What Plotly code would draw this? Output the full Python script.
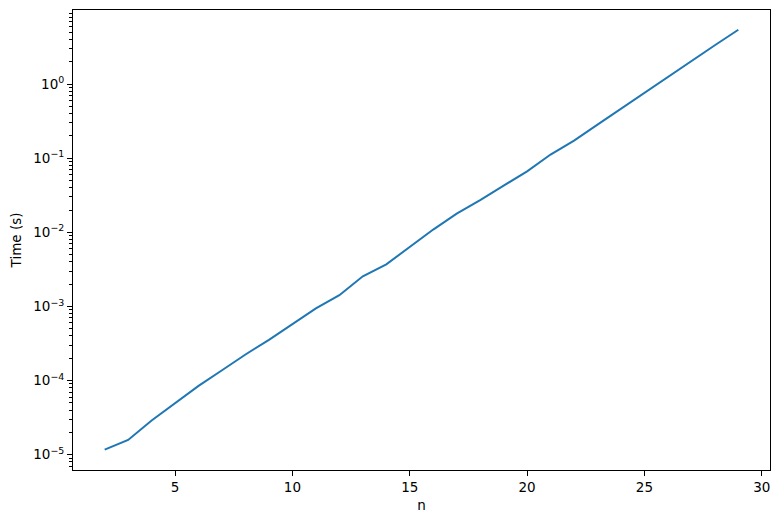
import plotly.graph_objects as go

n_values = list(range(2, 30))
time_s = [1.17e-5, 1.58e-5, 2.9e-5, 4.9e-5, 8.5e-5, 1.38e-4, 2.25e-4, 3.55e-4,
          5.7e-4, 9.4e-4, 1.42e-3, 2.55e-3, 3.7e-3, 6.35e-3, 1.09e-2, 1.79e-2,
          2.72e-2, 4.26e-2, 6.65e-2, 1.12e-1, 1.73e-1, 2.84e-1, 4.67e-1, 7.6e-1,
          1.25, 2.03, 3.34, 5.4]

y_tick_vals = [1e-5, 1e-4, 1e-3, 1e-2, 1e-1, 1e0]
y_tick_text = ["10<sup>−5</sup>", "10<sup>−4</sup>", "10<sup>−3</sup>",
               "10<sup>−2</sup>", "10<sup>−1</sup>", "10<sup>0</sup>"]
x_tick_vals = [5, 10, 15, 20, 25, 30]

minor_vals = [m * 10.0 ** e for e in range(-6, 1) for m in range(2, 10)]

fig = go.Figure()
fig.add_trace(go.Scatter(x=n_values, y=time_s, mode="lines",
                         line=dict(color="#1f77b4", width=2), showlegend=False))

font = dict(family="DejaVu Sans", size=13.5, color="black")
fig.update_layout(
    width=780, height=525,
    margin=dict(l=73, r=10, t=10, b=55),
    paper_bgcolor="white", plot_bgcolor="white",
    font=font,
    xaxis=dict(range=[0.65, 30.35], tickvals=x_tick_vals, ticks="outside", ticklen=5,
               tickwidth=1, tickcolor="black", showline=True, linecolor="black",
               linewidth=1, mirror=True, showgrid=False, zeroline=False,
               title=dict(text="n", standoff=6, font=font)),
    yaxis=dict(type="log", range=[-5.206, 0.999], tickvals=y_tick_vals,
               ticktext=y_tick_text, ticks="outside", ticklen=5, tickwidth=1,
               tickcolor="black", showline=True, linecolor="black", linewidth=1,
               mirror=True, showgrid=False, zeroline=False,
               minor=dict(tickvals=minor_vals, ticks="outside", ticklen=3,
                          tickwidth=0.8, tickcolor="black", showgrid=False),
               title=dict(text="Time (s)", standoff=8, font=font)),
)

fig.write_html("out.html", config={"displayModeBar": False},
               post_script="document.body.style.margin='0';document.body.style.overflow='hidden';")
